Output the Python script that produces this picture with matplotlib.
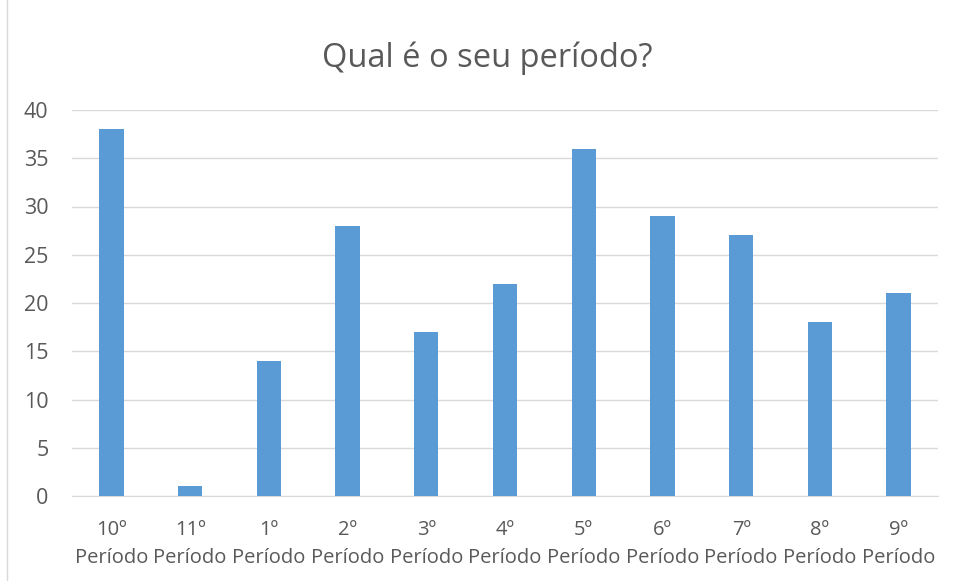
import matplotlib

matplotlib.use("Agg")
import matplotlib.pyplot as plt
from matplotlib.patches import Rectangle

categories = ["10º\nPeríodo", "11º\nPeríodo", "1º\nPeríodo", "2º\nPeríodo",
              "3º\nPeríodo", "4º\nPeríodo", "5º\nPeríodo", "6º\nPeríodo",
              "7º\nPeríodo", "8º\nPeríodo", "9º\nPeríodo"]
values = [38, 1, 14, 28, 17, 22, 36, 29, 27, 18, 21]
yticks = [0, 5, 10, 15, 20, 25, 30, 35, 40]

plt.rcParams["font.family"] = ["Open Sans", "DejaVu Sans"]
text_color = "#595959"

fig = plt.figure(figsize=(9.56, 5.81), dpi=100)
fig.patches.append(Rectangle((7 / 956, -0.01), 1.0, 1.02, transform=fig.transFigure,
                             fill=False, edgecolor="#D9D9D9", linewidth=1.0))
ax = fig.add_axes([72 / 956, 1 - 496 / 581, 866 / 956, 386 / 581])

x = range(len(values))
ax.bar(x, values, width=0.31, color="#5B9BD5", zorder=3)
ax.set_xlim(-0.5, len(values) - 0.5)
ax.set_ylim(0, 40)
ax.set_yticks(yticks)
ax.set_xticks(list(x))
ax.set_xticklabels(categories, linespacing=1.55)
ax.tick_params(axis="x", length=0, labelsize=14.5, colors=text_color, pad=17)
ax.tick_params(axis="y", length=0, labelsize=15.5, colors=text_color, pad=17)
ax.grid(axis="y", color="#D9D9D9", linewidth=1.0, zorder=0)
for side in ("top", "right", "left"):
    ax.spines[side].set_visible(False)
ax.spines["bottom"].set_color("#D9D9D9")

fig.text(487 / 956, 1 - 58 / 581, "Qual é o seu período?", ha="center", va="center",
         fontsize=23.5, color=text_color)

fig.savefig("out.png", dpi=100)
